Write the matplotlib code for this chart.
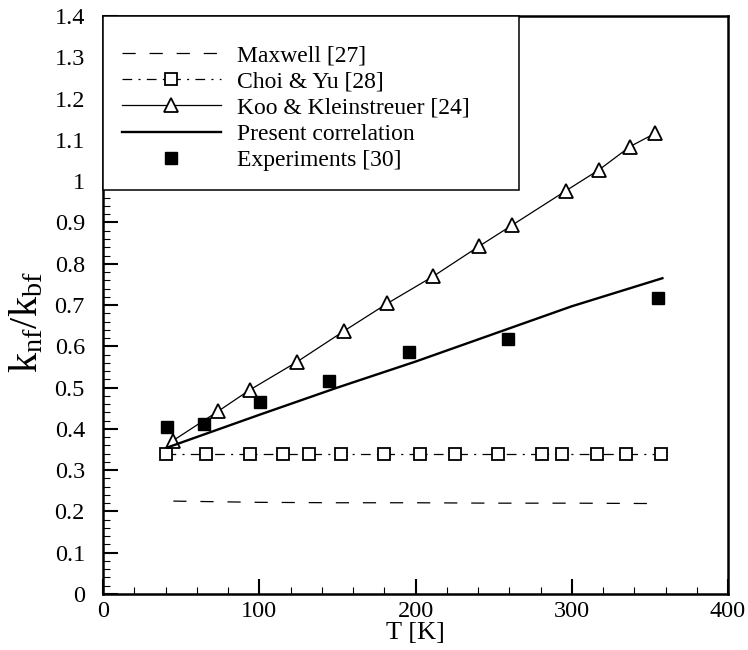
import matplotlib
matplotlib.use("Agg")
from matplotlib import pyplot as plt
from matplotlib.ticker import MultipleLocator, FuncFormatter

plt.rcParams['font.family'] = ['Liberation Serif', 'DejaVu Serif']
plt.rcParams['mathtext.fontset'] = 'custom'
plt.rcParams['mathtext.rm'] = 'Liberation Serif'
plt.rcParams['mathtext.it'] = 'Liberation Serif'
plt.rcParams['lines.scale_dashes'] = False

# Maxwell [27]
T_maxwell = [45, 100, 150, 200, 250, 300, 357]
k_maxwell = [0.225, 0.222, 0.221, 0.221, 0.220, 0.220, 0.219]

# Choi & Yu [28]
T_choi = [40, 66, 94, 115, 132, 152, 180, 203, 225, 253, 281, 294, 316, 335, 357]
k_choi = [0.34] * len(T_choi)

# Koo & Kleinstreuer [24]
T_koo = [44.6, 73.8, 93.8, 124, 154.2, 182, 211.5, 240.5, 261.6, 296.3, 317.6, 337.3, 353.3]
k_koo = [0.371, 0.443, 0.494, 0.562, 0.637, 0.704, 0.770, 0.842, 0.893, 0.977, 1.028, 1.084, 1.116]

# Present correlation
T_present = [42, 100, 150, 200, 250, 300, 358]
k_present = [0.356, 0.434, 0.500, 0.563, 0.630, 0.697, 0.765]

# Experiments [30]
T_exp = [40.8, 64.6, 100.5, 144.8, 196, 259, 355.4]
k_exp = [0.404, 0.412, 0.464, 0.516, 0.586, 0.617, 0.717]

fig = plt.figure(figsize=(7.48, 6.5), dpi=100)
ax = fig.add_axes([0.1377, 0.0862, 0.8356, 0.889])

ax.plot(T_maxwell, k_maxwell, color='black', lw=0.9, dashes=(9.5, 10), label='Maxwell [27]')
ax.plot(T_choi, k_choi, color='black', lw=0.9, dashes=(7, 4.5, 1.5, 4.5), marker='s',
        ms=8.5, mfc='white', mec='black', mew=1.3, label='Choi & Yu [28]')
ax.plot(T_koo, k_koo, color='black', lw=0.9, marker='^', ms=10, mfc='white',
        mec='black', mew=1.3, label='Koo & Kleinstreuer [24]')
ax.plot(T_present, k_present, color='black', lw=1.7, label='Present correlation')
ax.plot(T_exp, k_exp, ls='none', marker='s', ms=8.5, color='black', label='Experiments [30]')

ax.set_xlim(0, 400)
ax.set_ylim(0, 1.4)
ax.xaxis.set_major_locator(MultipleLocator(100))
ax.xaxis.set_minor_locator(MultipleLocator(20))
ax.yaxis.set_major_locator(MultipleLocator(0.1))
ax.yaxis.set_minor_locator(MultipleLocator(0.02))
ax.yaxis.set_major_formatter(FuncFormatter(lambda v, p: '%g' % round(v, 2)))
ax.tick_params(which='both', direction='in', top=False, right=False, labelsize=17.5)
ax.tick_params(which='major', length=11, width=1.5)
ax.tick_params(which='minor', length=5, width=0.8)
ax.tick_params(axis='x', which='major', pad=5)
ax.tick_params(axis='y', which='major', pad=13)
for s in ax.spines.values():
    s.set_linewidth(1.8)

ax.set_xlabel('T [K]', fontsize=19, labelpad=0)
ax.set_ylabel(r'k$_{\rm nf}$/k$_{\rm bf}$', fontsize=29)
ax.yaxis.set_label_coords(-0.09, 0.47)

leg = ax.legend(loc='upper left', bbox_to_anchor=(0, 0, 0.666, 1.0), mode='expand',
                borderaxespad=0, fontsize=17, handlelength=4.2, handletextpad=0.68,
                labelspacing=0.2, borderpad=0.8, fancybox=False, framealpha=1,
                title=' ', title_fontsize=4)
leg.get_frame().set_edgecolor('black')
leg.get_frame().set_linewidth(1.1)

plt.savefig('out.png', dpi=100)
